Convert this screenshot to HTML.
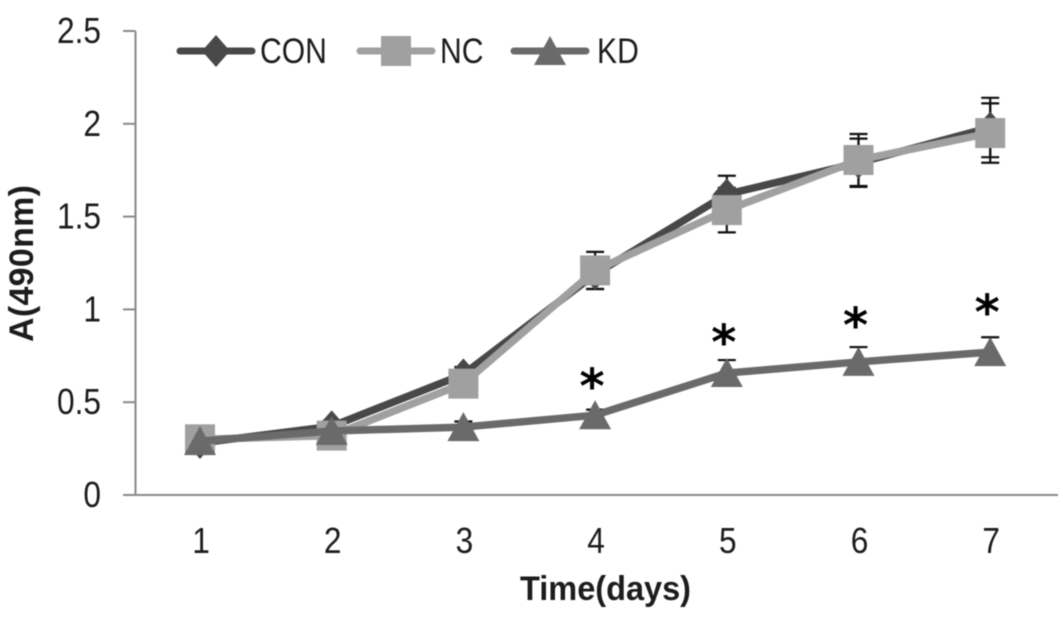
<!DOCTYPE html>
<html lang="en">
<head>
<meta charset="utf-8">
<title>A(490nm) over time</title>
<style>
html,body{margin:0;padding:0;background:#fff;width:1063px;height:617px;overflow:hidden}
svg{display:block;filter:blur(.6px)}
text{font-family:"Liberation Sans",sans-serif;fill:#1c1c1c}
</style>
</head>
<body>
<svg id="chart" width="1063" height="617" viewBox="0 0 1063 617" xmlns="http://www.w3.org/2000/svg">
<text transform="translate(33,342) rotate(-90)" font-size="34" font-weight="700" textLength="157">A(490nm)</text>
<text x="520" y="600" font-size="34" font-weight="700" textLength="171" lengthAdjust="spacingAndGlyphs">Time(days)</text>
<g id="axes"></g>
<g id="errors"></g>
<g id="series"></g>
<g id="stars"></g>
<g id="legend"></g>
</svg>
<script>
const categories = ["1","2","3","4","5","6","7"];
const yTicks = [0,0.5,1,1.5,2,2.5];
const yTickLabels = ["0","0.5","1","1.5","2","2.5"];
const conValues = [0.28,0.37,0.65,1.19,1.62,1.79,1.98];
const ncValues = [0.30,0.32,0.60,1.21,1.535,1.805,1.95];
const kdValues = [0.29,0.345,0.366,0.43,0.657,0.717,0.77];
const conErrors = [0.03,0.03,0.04,0.08,0.10,0.13,0.16];
const ncErrors = [0.03,0.03,0.04,0.10,0.12,0.14,0.16];
const kdErrors = [0.03,0.03,0.03,0.03,0.07,0.08,0.08];
const starDays = [3,4,5,6];
const starValues = [0.63,0.867,0.958,1.028];
const seriesNames = ["CON","NC","KD"];

const NS = "http://www.w3.org/2000/svg";
const xPos = i => 200 + i * 131.7;
const yPos = v => 495 - v * 185.6;
function mk(parent, tag, attrs, txt) {
  const el = document.createElementNS(NS, tag);
  for (const k in attrs) el.setAttribute(k, attrs[k]);
  if (txt !== undefined) el.textContent = txt;
  parent.appendChild(el);
  return el;
}
const axes = document.getElementById("axes");
const yLine = mk(axes, "line", {x1:135.5,x2:135.5,y1:yPos(2.5),y2:yPos(0),stroke:"#8a8a8a","stroke-width":2});


const xLine = mk(axes, "line", {x1:123,x2:1058,y1:yPos(0),y2:yPos(0),stroke:"#8a8a8a","stroke-width":2});


yTicks.forEach((t, i) => {
  const tick = mk(axes, "line", {x1:123,x2:135.5,y1:yPos(t),y2:yPos(t),stroke:"#8a8a8a","stroke-width":2});
  
  
  const label = mk(axes, "text", {transform:`translate(101,${yPos(t)+12}) scale(.88,1)`,"font-size":36,"text-anchor":"end"}, yTickLabels[i]);
  
  
});
categories.forEach((c, i) => {
  const label = mk(axes, "text", {transform:`translate(${xPos(i)+1},553) scale(.88,1)`,"font-size":36,"text-anchor":"middle"}, c);
  
  
});

function drawMarker(parent, kind, x, y, color) {
  if (kind === "CON") return mk(parent, "polygon", {points:`${x},${y-16} ${x+14},${y} ${x},${y+16} ${x-14},${y}`, fill:color});
  if (kind === "NC") return mk(parent, "rect", {x:x-15,y:y-15,width:30,height:30,fill:color});
  return mk(parent, "polygon", {points:`${x},${y-15} ${x+16},${y+14} ${x-16},${y+14}`, fill:color});
}
const errG = document.getElementById("errors");
function drawErrors(values, errs, upperOnly) {
  values.forEach((v, i) => {
    const x = xPos(i), top = yPos(v + errs[i]), bot = upperOnly ? yPos(v) : yPos(v - errs[i]);
    const d = `M${x} ${top}V${bot}M${x-9} ${top}H${x+9}` + (upperOnly ? "" : `M${x-9} ${bot}H${x+9}`);
    const bar = mk(errG, "path", {d:d, stroke:"#111", "stroke-width":2.2, fill:"none"});
    
    
  });
}
drawErrors(conValues, conErrors, false);
drawErrors(ncValues, ncErrors, false);
drawErrors(kdValues, kdErrors, true);

const seriesG = document.getElementById("series");
function drawSeries(kind, values, color) {
  const g = mk(seriesG, "g", {});
  
  
  const line = mk(g, "polyline", {points:values.map((v,i)=>xPos(i)+","+yPos(v)).join(" "),fill:"none",stroke:color,"stroke-width":7.5,"stroke-linejoin":"round"});
  
  
  values.forEach((v, i) => {
    const m = drawMarker(g, kind, xPos(i), yPos(v), color);
    
    
  });
}
drawSeries("CON", conValues, "#484848");
drawSeries("NC", ncValues, "#a0a0a0");
drawSeries("KD", kdValues, "#6a6a6a");

const starsG = document.getElementById("stars");
starDays.forEach((d, i) => {
  const s = mk(starsG, "text", {x:xPos(d)-3,y:yPos(starValues[i])+25,"font-size":48,"font-weight":700,"text-anchor":"middle",style:"font-family:'DejaVu Sans',sans-serif;fill:#000"}, "*");
  
  
});

const legendG = document.getElementById("legend");
const legendX = [177,357,511];
const legendColors = ["#484848","#a0a0a0","#6a6a6a"];
seriesNames.forEach((n, i) => {
  const g = mk(legendG, "g", {});
  
  
  const x0 = legendX[i];
  const l = mk(g, "line", {x1:x0+3,x2:x0+75,y1:51,y2:51,stroke:legendColors[i],"stroke-width":7,"stroke-linecap":"round"});
  
  
  const m = drawMarker(g, n, x0+39, 51, legendColors[i]);
  
  
  const t = mk(g, "text", {transform:`translate(${x0+(n==="KD"?86:83)},63) scale(.86,1)`,"font-size":35}, n);
  
  
});
</script>
</body>
</html>
